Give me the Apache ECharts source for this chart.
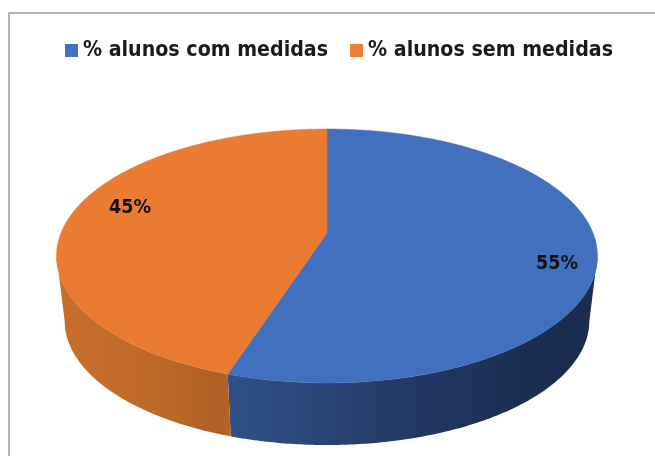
<!DOCTYPE html>
<html><head><meta charset="utf-8">
<style>html,body{margin:0;padding:0;background:#fff}#c{width:655px;height:456px}</style>
<script src="https://cdn.jsdelivr.net/npm/echarts@6/dist/echarts.min.js"></script>
</head><body><div id="c"></div>
<script>
const categories = ['% alunos com medidas', '% alunos sem medidas'];
const values = [55, 45];
const labels = ['55%', '45%'];
const colors = ['#4472C4', '#ED7D31'];
const topColors = ['#4170BE', '#EA7B30'];
const labelPos = [[557, 263.5], [130, 207.5]];
const sideStops = [
  [[229, '#2F5188'], [400, '#233A66'], [520, '#1B2E52'], [600, '#1A2C4F']],
  [[60, '#C96E2B'], [150, '#BF6929'], [222, '#AE5F24'], [231, '#BC641F']]
];

const total = values.reduce((a, b) => a + b, 0);
const P = 0.181;
const TOP = {cx: 327, cy: 233, a: 122.8, b: 266};
const BOT = {cx: 327, cy: 298.5, a: 120, b: 258};
const tangent = Math.acos(-P);

function pt(d, t) {
  const den = 1 + P * Math.cos(t);
  return [d.cx + d.b * Math.sin(t) / den, d.cy - d.a * Math.cos(t) / den];
}
function arc(d, t0, t1) {
  const n = Math.max(2, Math.ceil(Math.abs(t1 - t0) / 0.01));
  const out = [];
  for (let i = 0; i <= n; i++) out.push(pt(d, t0 + (t1 - t0) * i / n));
  return out;
}
function grad(stops) {
  const x0 = stops[0][0], x1 = stops[stops.length - 1][0];
  return new echarts.graphic.LinearGradient(x0, 0, x1, 0,
    stops.map(s => ({offset: (s[0] - x0) / (x1 - x0), color: s[1]})), true);
}
function makeSeries(idx) {
  const before = values.slice(0, idx).reduce((a, b) => a + b, 0);
  const t0 = before / total * 2 * Math.PI;
  const t1 = (before + values[idx]) / total * 2 * Math.PI;
  return {
    type: 'custom',
    name: categories[idx],
    coordinateSystem: 'none',
    itemStyle: {color: colors[idx]},
    data: [[values[idx]]],
    silent: true,
    renderItem() {
      const s0 = Math.max(t0, tangent), s1 = Math.min(t1, 2 * Math.PI - tangent);
      const side = arc(TOP, s0, s1).concat(arc(BOT, s1, s0));
      const top = [[TOP.cx, TOP.cy]].concat(arc(TOP, t0, t1));
      return {type: 'group', children: [
        {type: 'polygon', shape: {points: side}, style: {fill: grad(sideStops[idx])}},
        {type: 'polygon', shape: {points: top}, style: {fill: topColors[idx], stroke: topColors[idx], lineWidth: 0.5}},
        {type: 'text', x: labelPos[idx][0], y: labelPos[idx][1],
         style: {text: labels[idx], fill: '#111', font: 'bold 19.5px "DejaVu Sans Condensed"', align: 'center', verticalAlign: 'middle'}}
      ]};
    }
  };
}
const chart = echarts.init(document.getElementById('c'), null, {renderer: 'canvas'});
chart.setOption({
  animation: false,
  backgroundColor: '#fff',
  graphic: [
    {type: 'polyline', shape: {points: [[9, 456], [9, 13], [655, 13]]}, style: {stroke: '#9C9C9C', lineWidth: 1.5, fill: null}}
  ],
  legend: {
    left: 65, top: 40, padding: 0, itemWidth: 13, itemHeight: 13, itemGap: 22, icon: 'rect',
    data: categories,
    textStyle: {fontFamily: 'DejaVu Sans Condensed', fontSize: 21.2, fontWeight: 'bold', color: '#1a1a1a'}
  },
  series: values.map((_, i) => makeSeries(i))
});
</script></body></html>
